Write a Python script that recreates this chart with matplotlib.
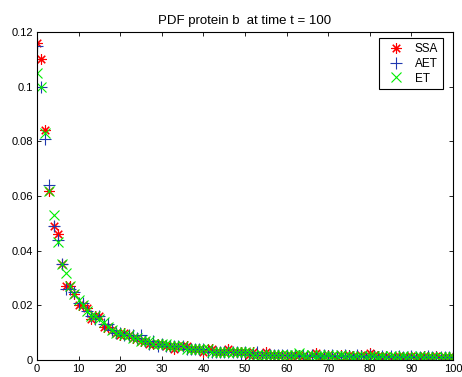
import matplotlib
matplotlib.use("Agg")
import matplotlib.pyplot as plt
import numpy as np

x = list(range(101))

ssa = [0.116, 0.110, 0.084, 0.062, 0.049, 0.046, 0.035, 0.027, 0.027, 0.024,
       0.020, 0.020, 0.019, 0.015, 0.016, 0.016, 0.012, 0.012, 0.011, 0.010,
       0.009, 0.010, 0.009, 0.008, 0.008, 0.007, 0.007, 0.006, 0.006, 0.006,
       0.006, 0.005, 0.005, 0.004, 0.005, 0.005, 0.005, 0.004, 0.004, 0.004,
       0.003, 0.004, 0.004, 0.003, 0.003, 0.003, 0.004, 0.003, 0.003, 0.003,
       0.003, 0.002, 0.003, 0.002, 0.002, 0.003, 0.002, 0.002, 0.002, 0.002,
       0.002, 0.0015, 0.002, 0.002, 0.0015, 0.001, 0.002, 0.0025, 0.001, 0.0015,
       0.002, 0.0015, 0.001, 0.002, 0.001, 0.002, 0.0015, 0.001, 0.002, 0.0015,
       0.0025, 0.002, 0.0015, 0.001, 0.0015, 0.001, 0.001, 0.0015, 0.001, 0.001,
       0.0015, 0.001, 0.001, 0.0015, 0.001, 0.001, 0.0015, 0.001, 0.001, 0.0012,
       0.0012]

aet = [0.115, 0.100, 0.081, 0.064, 0.049, 0.044, 0.035, 0.026, 0.026, 0.025,
       0.021, 0.021, 0.018, 0.016, 0.015, 0.016, 0.013, 0.013, 0.011, 0.010,
       0.010, 0.009, 0.009, 0.009, 0.008, 0.009, 0.007, 0.006, 0.007, 0.005,
       0.006, 0.005, 0.005, 0.005, 0.005, 0.005, 0.004, 0.004, 0.004, 0.004,
       0.004, 0.003, 0.003, 0.003, 0.003, 0.003, 0.003, 0.003, 0.003, 0.002,
       0.003, 0.002, 0.002, 0.003, 0.002, 0.002, 0.002, 0.002, 0.002, 0.002,
       0.002, 0.0015, 0.002, 0.0015, 0.002, 0.0015, 0.002, 0.0015, 0.001, 0.002,
       0.0015, 0.002, 0.0015, 0.001, 0.002, 0.0015, 0.001, 0.002, 0.0015, 0.001,
       0.002, 0.0015, 0.001, 0.0015, 0.001, 0.0015, 0.001, 0.0015, 0.001, 0.001,
       0.0015, 0.001, 0.001, 0.001, 0.0015, 0.001, 0.001, 0.001, 0.001, 0.001,
       0.001]

et = [0.105, 0.100, 0.083, 0.062, 0.053, 0.043, 0.035, 0.032, 0.027, 0.024,
      0.022, 0.020, 0.018, 0.016, 0.016, 0.015, 0.014, 0.012, 0.011, 0.010,
      0.010, 0.009, 0.009, 0.008, 0.008, 0.007, 0.007, 0.007, 0.006, 0.006,
      0.006, 0.006, 0.005, 0.005, 0.005, 0.005, 0.004, 0.004, 0.004, 0.004,
      0.004, 0.004, 0.003, 0.003, 0.003, 0.003, 0.003, 0.003, 0.003, 0.003,
      0.003, 0.003, 0.002, 0.002, 0.002, 0.002, 0.002, 0.002, 0.002, 0.002,
      0.002, 0.002, 0.002, 0.0025, 0.002, 0.0015, 0.002, 0.0015, 0.002, 0.0015,
      0.002, 0.0015, 0.0015, 0.002, 0.0015, 0.0015, 0.001, 0.0015, 0.0015, 0.001,
      0.0015, 0.0015, 0.001, 0.0015, 0.001, 0.0015, 0.001, 0.001, 0.0015, 0.001,
      0.001, 0.001, 0.0015, 0.001, 0.001, 0.001, 0.001, 0.001, 0.001, 0.001,
      0.001]

series_labels = ["SSA", "AET", "ET"]
title = "PDF protein b  at time t = 100"
xticks = list(range(0, 101, 10))
yticks = [0, 0.02, 0.04, 0.06, 0.08, 0.1, 0.12]
yticklabels = ["0", "0.02", "0.04", "0.06", "0.08", "0.1", "0.12"]

plt.rcParams['font.family'] = ['Liberation Sans', 'DejaVu Sans']

fig = plt.figure(figsize=(4.62, 3.77), dpi=100)
ax = fig.add_axes([37/462, 1 - 360/377, (453-37)/462, (360-32)/377])

ast = (8, 2, 0)
ax.plot(x, ssa, linestyle='none', marker=ast, color='#ff0000', markersize=7.5, mew=0.8, label=series_labels[0])
ax.plot(x, aet, linestyle='none', marker='+', color='#2038b0', markersize=9, mew=0.8, label=series_labels[1])
ax.plot(x, et, linestyle='none', marker='x', color='#00ee00', markersize=6.5, mew=0.8, label=series_labels[2])

ax.set_xlim(0, 100)
ax.set_ylim(0, 0.12)
ax.set_xticks(xticks)
ax.set_yticks(yticks)
ax.set_yticklabels(yticklabels)
ax.tick_params(direction='in', top=True, right=True, labelsize=8, length=3, width=0.6, pad=3)
for s in ax.spines.values():
    s.set_linewidth(0.8)
ax.set_title(title, fontsize=9.5, pad=6)

leg = ax.legend(loc='upper right', fontsize=8.5, frameon=True, fancybox=False,
                edgecolor='black', framealpha=1, handlelength=2.0,
                bbox_to_anchor=(443/462, 1 - 38/377), bbox_transform=fig.transFigure,
                borderaxespad=0, labelspacing=0.25, handletextpad=0.6, borderpad=0.4)
leg.get_frame().set_linewidth(0.8)

fig.savefig("out.png", dpi=100)
